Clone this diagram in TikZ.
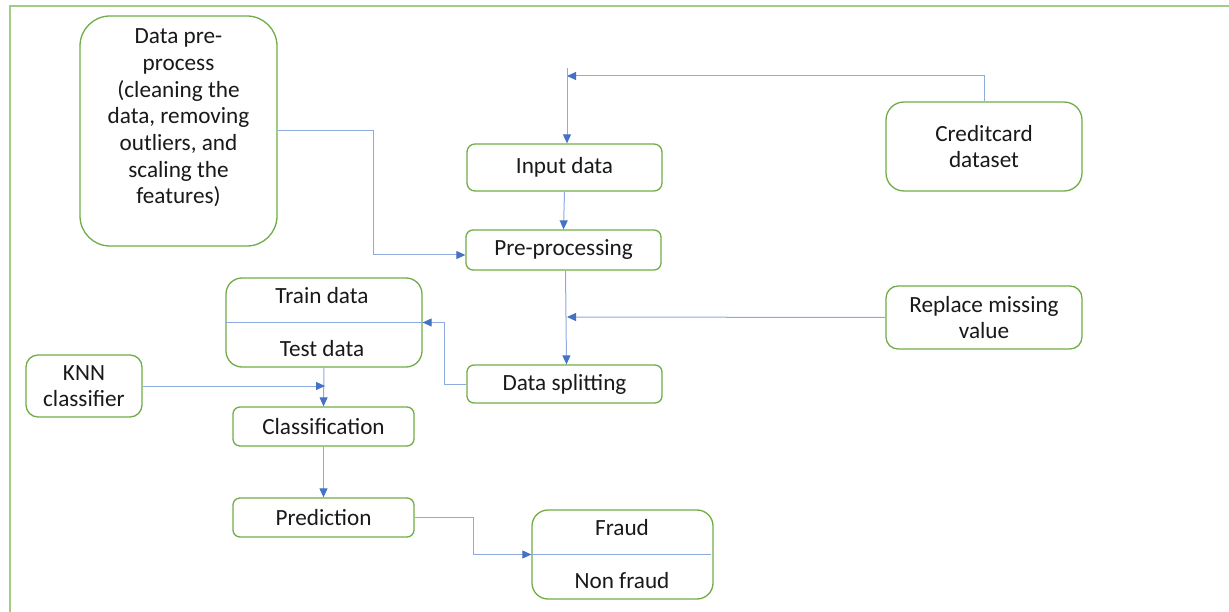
\documentclass[tikz,border=0pt]{standalone}
\usepackage{fontspec}
\setmainfont{Carlito}
\usetikzlibrary{arrows.meta}
\definecolor{boxgreen}{RGB}{112,173,71}
\definecolor{framegreen}{RGB}{160,205,130}
\definecolor{linkblue}{RGB}{143,170,220}
\definecolor{tipblue}{RGB}{68,114,196}
\tikzset{
  box/.style={draw=boxgreen, line width=1.3pt, fill=white, align=center, inner sep=0pt,
    font=\fontsize{23.2}{26.7}\selectfont, text=black!90},
  txt/.style={align=center, inner sep=0pt, font=\fontsize{23.2}{26.7}\selectfont, text=black!90},
  conn/.style={draw=linkblue, line width=1pt, -{Triangle[length=9pt,width=8pt,color=tipblue]}},
  plain/.style={draw=linkblue, line width=1pt},
  frame/.style={draw=framegreen, line width=1.6pt}
}
\begin{document}
\begin{tikzpicture}[x=1pt,y=-1pt]
\useasboundingbox (0,0) rectangle (1229,612);
\draw[frame] (1229,6) -- (10,6) -- (10,612);

% boxes
\node[box, rounded corners=30pt, minimum width=197pt, minimum height=230pt] (dpp) at (178.5,131) {};
\node[txt] (dpptext) at (178.5,118) {Data pre-\\process\\(cleaning the\\data, removing\\outliers, and\\scaling the\\features)};
\node[box, rounded corners=8pt, minimum width=195pt, minimum height=47pt] (input) at (564.5,167.5) {Input data};
\node[box, rounded corners=18pt, minimum width=196pt, minimum height=89pt] (cc) at (984,146.5) {Creditcard\\dataset};
\node[box, rounded corners=7pt, minimum width=195pt, minimum height=40pt] (prep) at (563.5,250) {Pre-processing};
\node[box, rounded corners=12pt, minimum width=196pt, minimum height=63pt] (rmv) at (984,317.5) {Replace missing\\value};
\node[box, rounded corners=16pt, minimum width=196pt, minimum height=89pt] (tt) at (324,322.5) {};
\node[txt] (train) at (322,296) {Train data};
\node[txt] (test) at (322,349) {Test data};
\node[box, rounded corners=7pt, minimum width=195pt, minimum height=38pt] (split) at (564.5,384) {Data splitting};
\node[box, rounded corners=12pt, minimum width=116pt, minimum height=62pt] (knn) at (84,386) {KNN\\classifier};
\node[box, rounded corners=7pt, minimum width=181pt, minimum height=39pt] (cls) at (323.5,426.5) {Classification};
\node[box, rounded corners=7pt, minimum width=181pt, minimum height=39pt] (pred) at (323.5,517.5) {Prediction};
\node[box, rounded corners=16pt, minimum width=181pt, minimum height=89pt] (fr) at (622.5,554.5) {};
\node[txt] (fraud) at (622,528) {Fraud};
\node[txt] (nonfraud) at (622,581) {Non fraud};

% dividers
\draw[plain] (tt.west) -- (tt.east);
\draw[plain] (fr.west) -- ([xshift=-3pt]fr.east);

% junction coordinates
\coordinate (jtop) at (567,76);
\coordinate (vtop) at (567,68);
\coordinate (jmid) at (567,317);
\coordinate (jknn) at (325,386);

% connectors
\draw[conn] (cc.north) |- (jtop);
\draw[conn] (vtop) -- (vtop |- input.north);
\draw[conn] (input.south) -- (prep.north);
\draw[conn] (dpp.east) -- (373,131) |- ([yshift=-5pt]prep.west);
\draw[conn] ([xshift=2pt]prep.south) -- ([xshift=2pt]split.north);
\draw[conn] (rmv.west) -- (jmid);
\draw[conn] (split.west) -- (444,384) |- (tt.east);
\draw[conn] (tt.south) -- (cls.north);
\draw[conn] (knn.east) -- (jknn);
\draw[conn] (cls.south) -- (pred.north);
\draw[conn] (pred.east) -- (473,517.5) |- (fr.west);
\end{tikzpicture}
\end{document}
